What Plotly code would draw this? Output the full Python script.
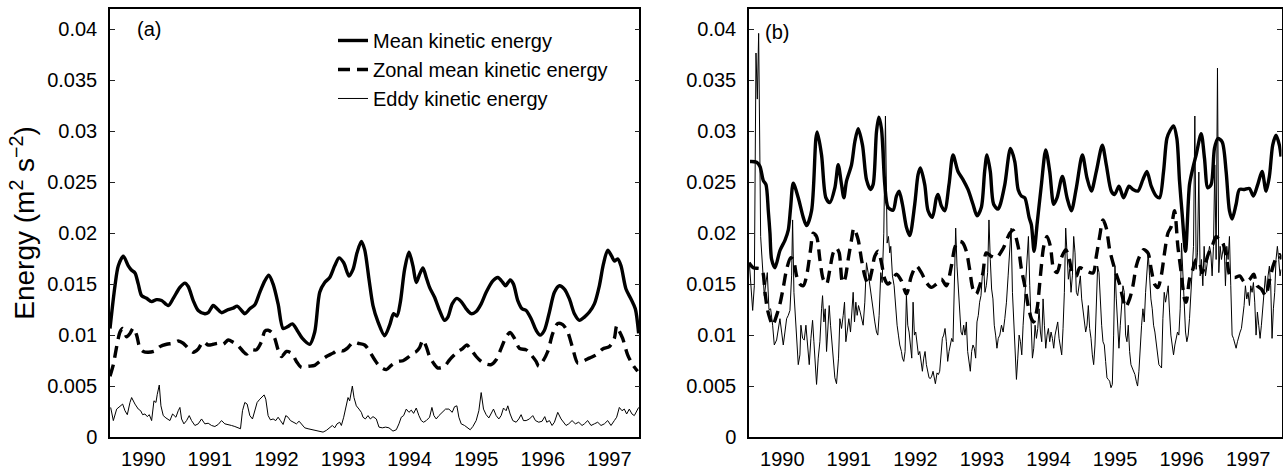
import plotly.graph_objects as go

# ---------------- Panel (a) ----------------
a_mean_t = [
    1990.000, 1990.075, 1990.125, 1990.200, 1990.275, 1990.325, 1990.375, 1990.425, 1990.475, 1990.550,
    1990.625, 1990.700, 1990.775, 1990.875, 1990.950, 1991.050, 1991.125, 1991.175, 1991.250, 1991.325,
    1991.425, 1991.475, 1991.550, 1991.600, 1991.675, 1991.775, 1991.850, 1991.910, 1991.975, 1992.025,
    1992.100, 1992.175, 1992.250, 1992.325, 1992.385, 1992.450, 1992.525, 1992.600, 1992.665, 1992.740,
    1992.810, 1992.890, 1993.000, 1993.075, 1993.150, 1993.225, 1993.300, 1993.375, 1993.440, 1993.510,
    1993.590, 1993.650, 1993.710, 1993.775, 1993.825, 1993.890, 1993.950, 1994.025, 1994.125, 1994.200,
    1994.260, 1994.310, 1994.360, 1994.425, 1994.490, 1994.550, 1994.600, 1994.650, 1994.700, 1994.750,
    1994.800, 1994.875, 1994.950, 1995.025, 1995.075, 1995.140, 1995.210, 1995.275, 1995.350, 1995.425,
    1995.500, 1995.575, 1995.650, 1995.750, 1995.825, 1995.900, 1995.940, 1996.010, 1996.060, 1996.125,
    1996.190, 1996.250, 1996.325, 1996.400, 1996.460, 1996.525, 1996.600, 1996.675, 1996.750, 1996.825,
    1996.900, 1996.975, 1997.050, 1997.125, 1997.200, 1997.275, 1997.350, 1997.410, 1997.475, 1997.535,
    1997.575, 1997.625, 1997.675, 1997.750, 1997.825, 1997.890, 1997.940,
]
a_mean = [
    0.01065, 0.01484, 0.0168, 0.01774, 0.0168, 0.01636, 0.0161, 0.0150, 0.01387, 0.01361,
    0.01329, 0.01348, 0.01339, 0.0129, 0.0136, 0.01468, 0.0151, 0.01477, 0.01339, 0.01242,
    0.0121, 0.0122, 0.0129, 0.01265, 0.0122, 0.0125, 0.01265, 0.01284, 0.01242, 0.0121,
    0.01258, 0.01297, 0.0142, 0.01532, 0.01587, 0.0150, 0.01306, 0.01065, 0.01081, 0.0111,
    0.01048, 0.00968, 0.0091, 0.0103, 0.0142, 0.01516, 0.01565, 0.0168, 0.01758, 0.0171,
    0.0158, 0.01645, 0.01807, 0.0192, 0.01839, 0.01548, 0.0129, 0.0113, 0.00994, 0.01097,
    0.0121, 0.01187, 0.0132, 0.01645, 0.01813, 0.0168, 0.01516, 0.01597, 0.0166, 0.01565,
    0.01468, 0.01371, 0.01242, 0.01145, 0.01177, 0.01306, 0.0136, 0.01329, 0.01258, 0.0121,
    0.01232, 0.01306, 0.0142, 0.01532, 0.01565, 0.01516, 0.01484, 0.0154, 0.0150, 0.01339,
    0.01258, 0.01242, 0.01161, 0.01048, 0.0100, 0.01048, 0.01226, 0.0142, 0.01484, 0.01452,
    0.01355, 0.0121, 0.01145, 0.01177, 0.01226, 0.01306, 0.01484, 0.01694, 0.01832, 0.01774,
    0.01726, 0.01748, 0.0168, 0.01452, 0.01355, 0.01258, 0.01016,
]

a_zonal_t = [
    1990.000, 1990.050, 1990.100, 1990.150, 1990.190, 1990.250, 1990.300, 1990.350, 1990.400, 1990.450, 1990.500, 1990.575, 1990.675, 1990.750, 1990.850, 1990.950,
    1991.025, 1991.100, 1991.175, 1991.250, 1991.325, 1991.400, 1991.475, 1991.550, 1991.625, 1991.700, 1991.775, 1991.850, 1991.925,
    1992.000, 1992.050, 1992.125, 1992.200, 1992.275, 1992.325, 1992.375, 1992.425, 1992.475, 1992.525, 1992.575, 1992.650, 1992.725, 1992.800, 1992.875, 1992.975,
    1993.075, 1993.150, 1993.250, 1993.350, 1993.425, 1993.500, 1993.575, 1993.650, 1993.725, 1993.825, 1993.900, 1993.975,
    1994.050, 1994.150, 1994.225, 1994.325, 1994.400, 1994.475, 1994.550, 1994.600, 1994.650, 1994.700, 1994.750, 1994.800, 1994.875, 1994.925,
    1995.025, 1995.100, 1995.200, 1995.300, 1995.360, 1995.425, 1995.500, 1995.575, 1995.650, 1995.725, 1995.800, 1995.875, 1995.950,
    1996.010, 1996.075, 1996.150, 1996.250, 1996.325, 1996.400, 1996.440, 1996.500, 1996.575, 1996.650, 1996.725, 1996.800, 1996.875, 1996.950,
    1997.025, 1997.100, 1997.200, 1997.300, 1997.400, 1997.500, 1997.575, 1997.610, 1997.650, 1997.700, 1997.775, 1997.850, 1997.925,
]
a_zonal = [
    0.00597, 0.0071, 0.00887, 0.0103, 0.01065, 0.00984, 0.01016, 0.0107, 0.0100, 0.0087, 0.00839, 0.00832, 0.00845, 0.00887, 0.0091, 0.0092,
    0.00942, 0.0092, 0.0087, 0.00832, 0.00864, 0.00935, 0.00903, 0.0091, 0.0092, 0.0091, 0.00952, 0.0093, 0.00897,
    0.00839, 0.00813, 0.00855, 0.00855, 0.00935, 0.01039, 0.01048, 0.0103, 0.00968, 0.00855, 0.0079, 0.00839, 0.00823, 0.00742, 0.00684, 0.00694,
    0.00703, 0.00742, 0.0079, 0.00823, 0.00855, 0.00845, 0.00877, 0.0093, 0.0092, 0.00903, 0.00839, 0.00758,
    0.00694, 0.00661, 0.00703, 0.00742, 0.00748, 0.00781, 0.00823, 0.00839, 0.00877, 0.00952, 0.00887, 0.0079, 0.0071, 0.00677,
    0.00694, 0.00758, 0.00823, 0.0087, 0.00903, 0.00855, 0.0079, 0.00742, 0.00716, 0.0071, 0.00758, 0.0087, 0.00984,
    0.01026, 0.00968, 0.0087, 0.00855, 0.00806, 0.00742, 0.00694, 0.00742, 0.00839, 0.01016, 0.01113, 0.01103, 0.0103, 0.0087,
    0.00726, 0.00742, 0.00774, 0.00806, 0.00864, 0.00887, 0.00968, 0.0109, 0.01039, 0.00968, 0.00806, 0.0071, 0.00645,
]

a_eddy_t = [
    1990.010, 1990.050, 1990.100, 1990.150, 1990.190, 1990.225, 1990.260, 1990.300, 1990.325, 1990.375, 1990.425, 1990.460, 1990.490, 1990.525, 1990.560, 1990.590, 1990.625, 1990.660, 1990.690, 1990.710, 1990.740, 1990.765, 1990.800, 1990.840, 1990.900, 1990.940, 1990.990,
    1991.025, 1991.050, 1991.075, 1991.110, 1991.150, 1991.190, 1991.225, 1991.275, 1991.325, 1991.375, 1991.425, 1991.475, 1991.525, 1991.575, 1991.625, 1991.675, 1991.725, 1991.775, 1991.825, 1991.875, 1991.925, 1991.960, 1991.990,
    1992.025, 1992.060, 1992.100, 1992.140, 1992.175, 1992.210, 1992.250, 1992.290, 1992.315, 1992.340, 1992.375, 1992.410, 1992.450, 1992.490, 1992.525, 1992.560, 1992.600, 1992.640, 1992.675, 1992.710, 1992.750, 1992.800, 1992.840, 1992.875, 1992.925, 1992.975,
    1993.050, 1993.125, 1993.200, 1993.250, 1993.300, 1993.340, 1993.375, 1993.410, 1993.450, 1993.475, 1993.510, 1993.550, 1993.575, 1993.600, 1993.625, 1993.640, 1993.665, 1993.700, 1993.740, 1993.775, 1993.800, 1993.835, 1993.875, 1993.910, 1993.950,
    1994.000, 1994.040, 1994.090, 1994.140, 1994.190, 1994.250, 1994.300, 1994.340, 1994.375, 1994.410, 1994.450, 1994.490, 1994.525, 1994.560, 1994.600, 1994.640, 1994.675, 1994.710, 1994.750, 1994.800, 1994.835, 1994.865, 1994.900, 1994.940, 1994.990,
    1995.040, 1995.090, 1995.140, 1995.175, 1995.210, 1995.240, 1995.275, 1995.325, 1995.375, 1995.410, 1995.450, 1995.500, 1995.540, 1995.575, 1995.610, 1995.650, 1995.690, 1995.725, 1995.760, 1995.800, 1995.840, 1995.875, 1995.910, 1995.950, 1995.975,
    1996.010, 1996.050, 1996.100, 1996.140, 1996.175, 1996.210, 1996.250, 1996.300, 1996.350, 1996.390, 1996.440, 1996.490, 1996.530, 1996.560, 1996.600, 1996.640, 1996.675, 1996.725, 1996.775, 1996.810, 1996.850, 1996.890, 1996.940, 1996.990,
    1997.040, 1997.090, 1997.125, 1997.175, 1997.225, 1997.275, 1997.325, 1997.375, 1997.425, 1997.475, 1997.525, 1997.575, 1997.610, 1997.650, 1997.690, 1997.725, 1997.760, 1997.800, 1997.840, 1997.875, 1997.910, 1997.940,
]
a_eddy = [
    0.0029, 0.00161, 0.00274, 0.00306, 0.00323, 0.00258, 0.00219, 0.00339, 0.00387, 0.00323, 0.00274, 0.00258, 0.00219, 0.00226, 0.002, 0.00219, 0.00161, 0.00355, 0.00339, 0.00419, 0.0051, 0.00306, 0.0021, 0.00187, 0.00161, 0.00226, 0.00194,
    0.00258, 0.0029, 0.00177, 0.00129, 0.00161, 0.0021, 0.00161, 0.00113, 0.00129, 0.00177, 0.00129, 0.00135, 0.00113, 0.00103, 0.00123, 0.00161, 0.00129, 0.00123, 0.00113, 0.00103, 0.0009, 0.00081, 0.00258,
    0.00339, 0.00323, 0.0021, 0.00177, 0.00274, 0.00339, 0.00371, 0.00394, 0.00413, 0.00371, 0.0021, 0.00168, 0.00177, 0.00161, 0.00194, 0.00161, 0.00123, 0.0021, 0.00194, 0.00161, 0.00145, 0.00129, 0.00155, 0.00129, 0.0009, 0.00081,
    0.00071, 0.00058, 0.00048, 0.00065, 0.00097, 0.00113, 0.0009, 0.00129, 0.00145, 0.00113, 0.00194, 0.00323, 0.00387, 0.00355, 0.00436, 0.005, 0.00387, 0.00306, 0.00274, 0.00242, 0.00194, 0.00177, 0.0021, 0.00177, 0.002,
    0.00177, 0.00097, 0.0009, 0.00097, 0.0009, 0.00058, 0.00071, 0.00129, 0.00194, 0.0021, 0.00274, 0.00242, 0.00264, 0.00232, 0.00284, 0.0021, 0.00161, 0.00145, 0.00161, 0.00194, 0.0029, 0.0021, 0.00177, 0.0021, 0.00242,
    0.00274, 0.00274, 0.00242, 0.00297, 0.00306, 0.00194, 0.00129, 0.00113, 0.0009, 0.00071, 0.00103, 0.00161, 0.00258, 0.00436, 0.00274, 0.00219, 0.00187, 0.00226, 0.00274, 0.0021, 0.00177, 0.0021, 0.00284, 0.00258, 0.00306,
    0.00226, 0.00161, 0.00145, 0.00177, 0.00219, 0.00161, 0.00161, 0.00177, 0.0021, 0.00161, 0.00145, 0.00155, 0.002, 0.00145, 0.00161, 0.00113, 0.00145, 0.00242, 0.00177, 0.00145, 0.00113, 0.00129, 0.00161, 0.00129,
    0.00145, 0.00113, 0.00129, 0.00161, 0.00113, 0.00129, 0.00145, 0.00113, 0.00129, 0.00161, 0.00113, 0.00161, 0.00194, 0.0029, 0.00258, 0.00274, 0.00226, 0.00274, 0.00226, 0.0021, 0.00258, 0.0029,
]

# ---------------- Panel (b) ----------------
b_mean_t = [
    1990.015, 1990.115, 1990.165, 1990.215, 1990.255, 1990.290, 1990.315, 1990.340, 1990.390, 1990.465, 1990.540, 1990.590, 1990.625, 1990.665, 1990.740, 1990.815, 1990.865, 1990.940,
    1991.005, 1991.025, 1991.090, 1991.155, 1991.215, 1991.290, 1991.340, 1991.390, 1991.425, 1991.465, 1991.540, 1991.590, 1991.640, 1991.705, 1991.765, 1991.825, 1991.865, 1991.915, 1991.950, 1991.990,
    1992.040, 1992.090, 1992.165, 1992.215, 1992.255, 1992.305, 1992.365, 1992.415, 1992.490, 1992.540, 1992.575, 1992.640, 1992.690, 1992.755, 1992.815, 1992.840, 1992.890, 1992.940,
    1993.005, 1993.065, 1993.140, 1993.215, 1993.290, 1993.365, 1993.425, 1993.490, 1993.540, 1993.575, 1993.625, 1993.675, 1993.740, 1993.768, 1993.843, 1993.928, 1993.993,
    1994.043, 1994.093, 1994.143, 1994.208, 1994.243, 1994.283, 1994.330, 1994.393, 1994.458, 1994.518, 1994.578, 1994.628, 1994.708, 1994.778, 1994.843, 1994.918,
    1995.008, 1995.078, 1995.143, 1995.218, 1995.308, 1995.368, 1995.443, 1995.493, 1995.558, 1995.628, 1995.708, 1995.768, 1995.843, 1995.918, 1995.978,
    1996.043, 1996.118, 1996.168, 1996.228, 1996.278, 1996.328, 1996.378, 1996.428, 1996.468, 1996.508, 1996.558, 1996.618, 1996.668, 1996.718, 1996.793, 1996.843, 1996.893, 1996.943, 1996.993,
    1997.043, 1997.108, 1997.168, 1997.218, 1997.258, 1997.318, 1997.368, 1997.443, 1997.518, 1997.578, 1997.643, 1997.708, 1997.768, 1997.818, 1997.868, 1997.918, 1997.968, 1997.993,
]
b_mean = [
    0.02703, 0.02697, 0.02655, 0.02516, 0.02477, 0.0222, 0.0200, 0.01742, 0.01661, 0.0183, 0.0193, 0.0203, 0.0225, 0.0249, 0.02348, 0.02155, 0.02074, 0.0222,
    0.0293, 0.02994, 0.02768, 0.02348, 0.023, 0.02445, 0.02671, 0.02477, 0.02348, 0.0251, 0.02671, 0.02897, 0.03026, 0.02864, 0.02526, 0.02429, 0.02477, 0.02994, 0.03139, 0.03026,
    0.02477, 0.02252, 0.02226, 0.02364, 0.02413, 0.02284, 0.02058, 0.01977, 0.02284, 0.02574, 0.02639, 0.02477, 0.0222, 0.02155, 0.02348, 0.0238, 0.02268, 0.0222,
    0.02477, 0.02768, 0.02606, 0.02526, 0.02429, 0.02284, 0.02171, 0.02252, 0.02606, 0.02768, 0.02606, 0.02284, 0.02236, 0.02268, 0.02477, 0.02832, 0.02703,
    0.02429, 0.02364, 0.02348, 0.02155, 0.0208, 0.01823, 0.021, 0.02477, 0.02816, 0.02606, 0.02284, 0.02348, 0.02558, 0.02348, 0.0222, 0.02445,
    0.02768, 0.02542, 0.02413, 0.02606, 0.02864, 0.02671, 0.02413, 0.0238, 0.02461, 0.02348, 0.02461, 0.02429, 0.02413, 0.02526, 0.02606,
    0.02461, 0.02364, 0.02348, 0.02606, 0.02929, 0.0301, 0.03052, 0.02929, 0.0251, 0.02187, 0.01823, 0.02477, 0.02639, 0.02768, 0.02977, 0.02735, 0.02445, 0.02477, 0.02832,
    0.02929, 0.02897, 0.02606, 0.0222, 0.02139, 0.02284, 0.02429, 0.02429, 0.02439, 0.02364, 0.02477, 0.02606, 0.02413, 0.02558, 0.02864, 0.02961, 0.02864, 0.02752,
]

b_zonal_t = [
    1990.000, 1990.065, 1990.190, 1990.240, 1990.275, 1990.315, 1990.355, 1990.415, 1990.465, 1990.515, 1990.565, 1990.625, 1990.665, 1990.715, 1990.765, 1990.815, 1990.865, 1990.925, 1990.965,
    1991.015, 1991.065, 1991.115, 1991.165, 1991.215, 1991.265, 1991.315, 1991.355, 1991.405, 1991.440, 1991.490, 1991.540, 1991.575, 1991.640, 1991.690, 1991.740, 1991.790, 1991.840, 1991.890, 1991.940, 1991.990,
    1992.040, 1992.090, 1992.140, 1992.215, 1992.290, 1992.365, 1992.440, 1992.515, 1992.590, 1992.665, 1992.740, 1992.815, 1992.890, 1992.965,
    1993.040, 1993.090, 1993.140, 1993.205, 1993.265, 1993.315, 1993.365, 1993.415, 1993.465, 1993.515, 1993.565, 1993.640, 1993.715, 1993.818, 1993.918, 1993.968,
    1994.043, 1994.093, 1994.143, 1994.193, 1994.243, 1994.278, 1994.328, 1994.378, 1994.428, 1994.478, 1994.528, 1994.578, 1994.628, 1994.693, 1994.758, 1994.808, 1994.858, 1994.918, 1994.968,
    1995.068, 1995.168, 1995.218, 1995.268, 1995.318, 1995.368, 1995.418, 1995.468, 1995.518, 1995.568, 1995.618, 1995.658, 1995.718, 1995.768, 1995.818, 1995.868, 1995.928, 1995.993,
    1996.043, 1996.093, 1996.143, 1996.193, 1996.243, 1996.293, 1996.343, 1996.393, 1996.443, 1996.493, 1996.543, 1996.568, 1996.618, 1996.668, 1996.718, 1996.768, 1996.808, 1996.858, 1996.908, 1996.958,
    1997.018, 1997.068, 1997.118, 1997.178, 1997.228, 1997.298, 1997.373, 1997.448, 1997.523, 1997.583, 1997.633, 1997.698, 1997.763, 1997.813, 1997.873, 1997.923, 1997.973, 1997.998,
]
b_zonal = [
    0.0171, 0.01661, 0.01645, 0.0142, 0.01258, 0.01161, 0.01097, 0.01194, 0.01306, 0.01468, 0.01645, 0.01758, 0.01742, 0.01581, 0.015, 0.01484, 0.01581, 0.01839, 0.0200,
    0.01968, 0.01742, 0.01548, 0.015, 0.01645, 0.01807, 0.01855, 0.01807, 0.01516, 0.01548, 0.01742, 0.01936, 0.02048, 0.01936, 0.01742, 0.01581, 0.015, 0.01613, 0.01774, 0.01823, 0.0171,
    0.01548, 0.015, 0.01532, 0.01597, 0.01532, 0.01403, 0.01581, 0.01677, 0.01613, 0.01516, 0.01468, 0.015, 0.01548, 0.01484,
    0.01677, 0.01855, 0.01919, 0.0191, 0.01823, 0.01645, 0.01452, 0.01403, 0.01484, 0.01613, 0.01807, 0.01774, 0.01758, 0.0185, 0.0200, 0.0203,
    0.01871, 0.01645, 0.01484, 0.0129, 0.01161, 0.01129, 0.01258, 0.01581, 0.01871, 0.01968, 0.01871, 0.01645, 0.01613, 0.01758, 0.01839, 0.01758, 0.01613, 0.01581, 0.0166,
    0.0163, 0.0161, 0.01774, 0.01968, 0.0213, 0.0205, 0.01839, 0.0171, 0.01597, 0.015, 0.01355, 0.01274, 0.01355, 0.01484, 0.01677, 0.01774, 0.01839, 0.01807,
    0.01645, 0.015, 0.01468, 0.01581, 0.01807, 0.0200, 0.02065, 0.0222, 0.01871, 0.01613, 0.01355, 0.01323, 0.01548, 0.01645, 0.01742, 0.0171, 0.01613, 0.0171, 0.01807, 0.01871,
    0.01968, 0.01936, 0.01903, 0.01742, 0.01581, 0.01565, 0.01581, 0.01516, 0.01548, 0.01597, 0.01484, 0.01452, 0.01387, 0.01516, 0.01677, 0.01758, 0.0179, 0.01742,
]

b_eddy_t = [
    1990.005, 1990.030, 1990.055, 1990.080, 1990.105, 1990.125, 1990.145, 1990.175, 1990.205, 1990.230, 1990.255, 1990.275, 1990.300, 1990.325, 1990.355, 1990.380, 1990.415, 1990.440, 1990.465, 1990.490, 1990.515,
    1990.540, 1990.565, 1990.590, 1990.615, 1990.640, 1990.655, 1990.675, 1990.695, 1990.715, 1990.740, 1990.765, 1990.780, 1990.805, 1990.830, 1990.855, 1990.880, 1990.905, 1990.930, 1990.955, 1990.975,
    1991.000, 1991.015, 1991.040, 1991.065, 1991.090, 1991.105, 1991.125, 1991.145, 1991.165, 1991.185, 1991.205, 1991.225, 1991.245, 1991.265, 1991.290, 1991.315, 1991.345, 1991.365, 1991.390, 1991.415, 1991.435, 1991.455, 1991.480,
    1991.500, 1991.525, 1991.545, 1991.565, 1991.585, 1991.605, 1991.625, 1991.645, 1991.670, 1991.695, 1991.715, 1991.740, 1991.765, 1991.790, 1991.815, 1991.840, 1991.865, 1991.890, 1991.915, 1991.935, 1991.955, 1991.980,
    1992.000, 1992.025, 1992.050, 1992.075, 1992.095, 1992.115, 1992.130, 1992.155, 1992.180, 1992.205, 1992.225, 1992.245, 1992.265, 1992.290, 1992.305, 1992.325, 1992.345, 1992.365, 1992.385, 1992.405, 1992.425, 1992.445, 1992.465, 1992.485,
    1992.505, 1992.525, 1992.545, 1992.565, 1992.585, 1992.605, 1992.625, 1992.645, 1992.665, 1992.685, 1992.705, 1992.725, 1992.745, 1992.765, 1992.785, 1992.800, 1992.825, 1992.845, 1992.865, 1992.885, 1992.905, 1992.925, 1992.945, 1992.965, 1992.985,
    1993.005, 1993.025, 1993.045, 1993.065, 1993.085, 1993.105, 1993.125, 1993.145, 1993.165, 1993.185, 1993.205, 1993.225, 1993.245, 1993.265, 1993.285, 1993.305, 1993.325, 1993.345, 1993.365, 1993.385, 1993.405, 1993.425, 1993.445, 1993.465, 1993.485,
    1993.505, 1993.525, 1993.545, 1993.565, 1993.585, 1993.605, 1993.625, 1993.645, 1993.665, 1993.685, 1993.705, 1993.725, 1993.745, 1993.768, 1993.793, 1993.818, 1993.843, 1993.868, 1993.893, 1993.918, 1993.938, 1993.958, 1993.978, 1993.998,
    1994.018, 1994.038, 1994.058, 1994.078, 1994.098, 1994.118, 1994.138, 1994.158, 1994.178, 1994.198, 1994.218, 1994.238, 1994.258, 1994.278, 1994.298, 1994.318, 1994.338, 1994.358, 1994.378, 1994.398, 1994.418, 1994.438, 1994.458, 1994.478, 1994.498,
    1994.518, 1994.538, 1994.558, 1994.578, 1994.598, 1994.618, 1994.638, 1994.658, 1994.678, 1994.698, 1994.718, 1994.738, 1994.758, 1994.778, 1994.798, 1994.818, 1994.838, 1994.858, 1994.878, 1994.898, 1994.918, 1994.938, 1994.958, 1994.978, 1994.998,
    1995.018, 1995.038, 1995.058, 1995.078, 1995.098, 1995.118, 1995.138, 1995.158, 1995.178, 1995.198, 1995.218, 1995.238, 1995.258, 1995.278, 1995.298, 1995.318, 1995.338, 1995.358, 1995.378, 1995.398, 1995.418, 1995.438, 1995.458, 1995.478, 1995.498,
    1995.518, 1995.538, 1995.558, 1995.578, 1995.598, 1995.618, 1995.638, 1995.658, 1995.678, 1995.698, 1995.718, 1995.738, 1995.758, 1995.778, 1995.798, 1995.818, 1995.838, 1995.858, 1995.878, 1995.898, 1995.918, 1995.938, 1995.958, 1995.978, 1995.998,
    1996.018, 1996.038, 1996.058, 1996.078, 1996.098, 1996.118, 1996.138, 1996.158, 1996.178, 1996.198, 1996.218, 1996.238, 1996.258, 1996.278, 1996.298, 1996.318, 1996.338, 1996.358, 1996.378, 1996.398, 1996.418, 1996.438, 1996.458, 1996.478, 1996.498,
    1996.518, 1996.538, 1996.558, 1996.578, 1996.598, 1996.618, 1996.638, 1996.658, 1996.678, 1996.698, 1996.718, 1996.738, 1996.758, 1996.778, 1996.798, 1996.818, 1996.838, 1996.858, 1996.878, 1996.898, 1996.918, 1996.938, 1996.958, 1996.978, 1996.998,
    1997.018, 1997.038, 1997.058, 1997.078, 1997.098, 1997.118, 1997.138, 1997.158, 1997.178, 1997.198, 1997.218, 1997.238, 1997.258, 1997.278, 1997.298, 1997.318, 1997.338, 1997.358, 1997.378, 1997.398, 1997.418, 1997.438, 1997.458, 1997.478, 1997.498,
    1997.518, 1997.538, 1997.558, 1997.578, 1997.598, 1997.618, 1997.638, 1997.658, 1997.678, 1997.698, 1997.718, 1997.738, 1997.758, 1997.778, 1997.798, 1997.818, 1997.838, 1997.858, 1997.878, 1997.898, 1997.918, 1997.938, 1997.958, 1997.978, 1997.993,
]
b_eddy = [
    0.0171, 0.0142, 0.01242, 0.01484, 0.03768, 0.03316, 0.03961, 0.01968, 0.01581, 0.01387, 0.01516, 0.01613, 0.0125, 0.01258, 0.01097, 0.00903, 0.00952, 0.01048, 0.01161, 0.0103, 0.00903,
    0.0103, 0.01161, 0.01194, 0.01242, 0.01581, 0.0213, 0.0142, 0.01161, 0.00968, 0.0071, 0.00806, 0.01097, 0.00968, 0.00952, 0.01097, 0.00935, 0.0071, 0.00968, 0.01145, 0.00935,
    0.00581, 0.00516, 0.00774, 0.00935, 0.01258, 0.01387, 0.01129, 0.01258, 0.00839, 0.01097, 0.0129, 0.01097, 0.00919, 0.0071, 0.00581, 0.00523, 0.00774, 0.01161, 0.01065, 0.01194, 0.01323, 0.00935, 0.01097,
    0.01161, 0.0103, 0.01258, 0.0142, 0.01129, 0.01323, 0.01194, 0.0129, 0.01226, 0.01161, 0.01097, 0.01323, 0.0171, 0.01613, 0.01484, 0.01355, 0.01226, 0.01129, 0.0103, 0.0100, 0.01194, 0.01613,
    0.01516, 0.0200, 0.0315, 0.01903, 0.01968, 0.01807, 0.01871, 0.01581, 0.01484, 0.01226, 0.01097, 0.0100, 0.00903, 0.00839, 0.00774, 0.00742, 0.00839, 0.01387, 0.01097, 0.0103, 0.00871, 0.00774, 0.01323, 0.0100,
    0.0103, 0.00903, 0.00806, 0.00839, 0.00742, 0.00645, 0.00774, 0.00839, 0.0071, 0.00645, 0.00581, 0.00574, 0.00597, 0.00645, 0.00581, 0.00523, 0.00629, 0.00613, 0.00645, 0.00839, 0.00968, 0.0100, 0.01065, 0.00935, 0.00742,
    0.00839, 0.00903, 0.00968, 0.00935, 0.01581, 0.0205, 0.01677, 0.0142, 0.01226, 0.0103, 0.0100, 0.01097, 0.0100, 0.01129, 0.00839, 0.0071, 0.00645, 0.00839, 0.00903, 0.00871, 0.00774, 0.01129, 0.01194, 0.01323, 0.01387,
    0.01581, 0.01677, 0.0142, 0.01484, 0.01613, 0.0213, 0.01742, 0.01452, 0.01355, 0.01097, 0.0100, 0.00871, 0.00968, 0.0100, 0.01097, 0.0103, 0.01161, 0.01323, 0.01581, 0.01871, 0.0205, 0.0142, 0.01097, 0.00903,
    0.00565, 0.00774, 0.0100, 0.00935, 0.00806, 0.01097, 0.01323, 0.01516, 0.01742, 0.01968, 0.01484, 0.0103, 0.00774, 0.00871, 0.01097, 0.00968, 0.01065, 0.01258, 0.0103, 0.00935, 0.01355, 0.01097, 0.00871, 0.0100, 0.01065,
    0.00935, 0.0103, 0.00968, 0.00871, 0.0100, 0.01065, 0.01129, 0.00968, 0.00903, 0.00806, 0.01065, 0.0142, 0.0205, 0.01742, 0.01548, 0.01645, 0.0142, 0.01581, 0.01968, 0.01807, 0.0142, 0.01387, 0.01484, 0.01581, 0.01355,
    0.01258, 0.01161, 0.0103, 0.01097, 0.0129, 0.01065, 0.00968, 0.00806, 0.0071, 0.00903, 0.0142, 0.01677, 0.01613, 0.01258, 0.01097, 0.00935, 0.00903, 0.00742, 0.00581, 0.00565, 0.00548, 0.00484, 0.00516, 0.0100, 0.01677,
    0.01355, 0.01161, 0.00871, 0.01097, 0.01258, 0.01484, 0.0142, 0.0100, 0.00935, 0.01097, 0.00839, 0.0071, 0.00677, 0.00645, 0.00613, 0.00548, 0.0050, 0.00645, 0.00935, 0.01097, 0.01258, 0.01129, 0.0142, 0.01581, 0.01807,
    0.01581, 0.01355, 0.01258, 0.01097, 0.0103, 0.00935, 0.00839, 0.0071, 0.00694, 0.00677, 0.01161, 0.0142, 0.01323, 0.0142, 0.01484, 0.01226, 0.0100, 0.00903, 0.00806, 0.00903, 0.00968, 0.0103, 0.0100, 0.01258, 0.01903,
    0.01581, 0.0142, 0.0103, 0.00935, 0.0100, 0.01161, 0.0142, 0.01742, 0.01871, 0.0315, 0.01645, 0.01807, 0.0260, 0.01581, 0.01742, 0.01484, 0.01871, 0.01581, 0.01677, 0.01742, 0.01871, 0.01807, 0.01581, 0.01871, 0.0267,
    0.01742, 0.0362, 0.01613, 0.01871, 0.01742, 0.01807, 0.01903, 0.01484, 0.01871, 0.01742, 0.01968, 0.01484, 0.0100, 0.00968, 0.00903, 0.00871, 0.00935, 0.0100, 0.0103, 0.01065, 0.01161, 0.0129, 0.01484, 0.01355, 0.0142,
    0.0129, 0.01484, 0.0142, 0.01516, 0.01323, 0.0100, 0.01226, 0.01097, 0.00968, 0.01097, 0.01226, 0.0142, 0.01581, 0.0142, 0.01581, 0.01677, 0.01484, 0.00968, 0.01258, 0.0142, 0.01742, 0.01871, 0.01742, 0.01581, 0.01645,
]

years = [1990, 1991, 1992, 1993, 1994, 1995, 1996, 1997]
year_bounds = [1991, 1992, 1993, 1994, 1995, 1996, 1997]
y_ticks = [0, 0.005, 0.01, 0.015, 0.02, 0.025, 0.03, 0.035, 0.04]
y_tick_text = ["0", "0.005", "0.01", "0.015", "0.02", "0.025", "0.03", "0.035", "0.04"]

series_names = ["Mean kinetic energy", "Zonal mean kinetic energy", "Eddy kinetic energy"]

for t, v in [(a_mean_t, a_mean), (a_zonal_t, a_zonal), (a_eddy_t, a_eddy),
             (b_mean_t, b_mean), (b_zonal_t, b_zonal), (b_eddy_t, b_eddy)]:
    assert len(t) == len(v), (len(t), len(v))

FONT = "Liberation Sans, Arial, Helvetica, sans-serif"

fig = go.Figure()

panels = [
    ("x", "y", a_mean_t, a_mean, a_zonal_t, a_zonal, a_eddy_t, a_eddy, True),
    ("x2", "y2", b_mean_t, b_mean, b_zonal_t, b_zonal, b_eddy_t, b_eddy, False),
]
for xa, ya, mt, mv, zt, zv, et, ev, show in panels:
    fig.add_trace(go.Scatter(
        x=mt, y=mv, xaxis=xa, yaxis=ya, mode="lines", name=series_names[0],
        line=dict(color="black", width=3.4, shape="spline", smoothing=0.8),
        showlegend=show, legendgroup="mean"))
    fig.add_trace(go.Scatter(
        x=zt, y=zv, xaxis=xa, yaxis=ya, mode="lines", name=series_names[1],
        line=dict(color="black", width=3.4, dash="12px,7px", shape="spline", smoothing=0.8),
        showlegend=show, legendgroup="zonal"))
    fig.add_trace(go.Scatter(
        x=et, y=ev, xaxis=xa, yaxis=ya, mode="lines", name=series_names[2],
        line=dict(color="black", width=1),
        showlegend=show, legendgroup="eddy"))

W, H = 1283, 470


def x_label_axis(domain, rng, anchor):
    # year names sit in the middle of each year, without tick marks
    return dict(
        domain=domain, range=rng, anchor=anchor,
        tickmode="array", tickvals=[y + 0.5 for y in years], ticktext=[str(y) for y in years],
        ticks="", showgrid=False, zeroline=False,
        showline=True, linecolor="black", linewidth=1.5, mirror=True,
        tickfont=dict(family=FONT, size=20, color="black"),
        ticklabelstandoff=3,
    )


def x_tick_axis(domain, rng, anchor, over):
    # tick marks at the year boundaries, on bottom and top edges
    return dict(
        domain=domain, range=rng, anchor=anchor, overlaying=over, side="bottom",
        tickmode="array", tickvals=year_bounds, showticklabels=False,
        ticks="inside", ticklen=5, tickcolor="#222", tickwidth=1,
        showgrid=False, zeroline=False,
        showline=True, linecolor="black", linewidth=1.5, mirror="ticks",
    )


def y_axis(anchor, title=None):
    d = dict(
        range=[0, 0.042], domain=[0, 1], anchor=anchor,
        tickmode="array", tickvals=y_ticks, ticktext=y_tick_text,
        ticks="inside", ticklen=5, tickcolor="#222", tickwidth=1,
        showgrid=False, zeroline=False,
        showline=True, linecolor="black", linewidth=1.5, mirror="ticks",
        tickfont=dict(family=FONT, size=20, color="black"),
        ticklabelstandoff=7,
    )
    if title:
        d["title"] = dict(text=title, font=dict(family=FONT, size=28, color="black"), standoff=4)
    return d


dom_a = [110 / W, 639.3 / W]
dom_b = [749 / W, 1281.5 / W]
rng_a = [1990, 1997.95]
rng_b = [1990, 1998]

fig.update_layout(
    width=W, height=H,
    margin=dict(l=0, r=0, t=9, b=27, pad=0),
    paper_bgcolor="white", plot_bgcolor="white",
    font=dict(family=FONT, size=20, color="black"),
    xaxis=x_label_axis(dom_a, rng_a, "y"),
    xaxis2=x_label_axis(dom_b, rng_b, "y2"),
    xaxis3=x_tick_axis(dom_a, rng_a, "y", "x"),
    xaxis4=x_tick_axis(dom_b, rng_b, "y2", "x2"),
    yaxis=y_axis("x", "Energy (m<sup>2</sup> s<sup>\u22122</sup>)"),
    yaxis2=y_axis("x2"),
    legend=dict(
        x=333 / W, y=0.972, xanchor="left", yanchor="top",
        bgcolor="rgba(0,0,0,0)", borderwidth=0,
        font=dict(family=FONT, size=20, color="black"),
        tracegroupgap=0, itemwidth=30,
    ),
    annotations=[
        dict(text="(a)", x=1990.37, y=0.04, xref="x", yref="y", xanchor="left", yanchor="middle",
             showarrow=False, font=dict(family=FONT, size=20, color="black")),
        dict(text="(b)", x=1990.21, y=0.0397, xref="x2", yref="y2", xanchor="left", yanchor="middle",
             showarrow=False, font=dict(family=FONT, size=20, color="black")),
    ],
)

fig.write_html("out.html")
